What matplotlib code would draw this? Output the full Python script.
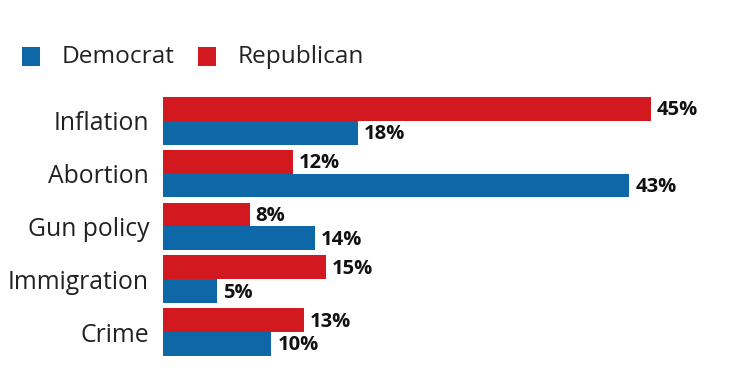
import matplotlib
matplotlib.use("Agg")
import matplotlib.pyplot as plt
from matplotlib.patches import Rectangle

categories = ["Inflation", "Abortion", "Gun policy", "Immigration", "Crime"]
democrat = [18, 43, 14, 5, 10]
republican = [45, 12, 8, 15, 13]
series_names = ["Democrat", "Republican"]

BLUE = "#0e68a8"
RED = "#d1191f"
TXT = "#222222"

plt.rcParams['font.family'] = ['Open Sans', 'DejaVu Sans']

W, H = 753, 384
fig = plt.figure(figsize=(W / 100, H / 100), dpi=100)

# axes in pixel geometry
x0, x1 = 163, 705
spacing = 52.8
c0 = 120.8
top = c0 - spacing / 2
bottom = c0 + 4 * spacing + spacing / 2
ax = fig.add_axes([x0 / W, 1 - bottom / H, (x1 - x0) / W, (bottom - top) / H])
xmax = (x1 - x0) / ((651 - 163) / 45)
ax.set_xlim(0, xmax)
ax.set_ylim(4.5, -0.5)

bh = 23.8 / spacing
ys = list(range(len(categories)))
ax.barh([y - bh / 2 for y in ys], republican, height=bh, color=RED, linewidth=0)
ax.barh([y + bh / 2 for y in ys], democrat, height=bh, color=BLUE, linewidth=0)

off = 0.55
for y, r, d in zip(ys, republican, democrat):
    ax.text(r + off, y - bh / 2 + 0.03, f"{r}%", va="center", ha="left", fontsize=14.5,
            fontweight="bold", color="#111111")
    ax.text(d + off, y + bh / 2 + 0.03, f"{d}%", va="center", ha="left", fontsize=14.5,
            fontweight="bold", color="#111111")

ax.set_yticks(ys)
ax.set_yticklabels(categories, fontsize=17.8, color=TXT)
ax.tick_params(axis="y", length=0, pad=10)
ax.set_xticks([])
for s in ax.spines.values():
    s.set_visible(False)

# legend
fig.patches.append(Rectangle((22 / W, 1 - 66 / H), 18 / W, 19 / H, transform=fig.transFigure,
                             color=BLUE, linewidth=0))
fig.text(62 / W, 1 - 57 / H, series_names[0], fontsize=17.6, color=TXT, va="center", ha="left")
fig.patches.append(Rectangle((198 / W, 1 - 66 / H), 18 / W, 19 / H, transform=fig.transFigure,
                             color=RED, linewidth=0))
fig.text(238 / W, 1 - 57 / H, series_names[1], fontsize=17.6, color=TXT, va="center", ha="left")

fig.savefig("out.png", dpi=100)
